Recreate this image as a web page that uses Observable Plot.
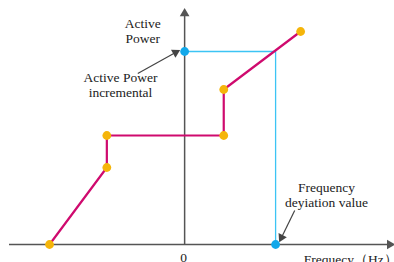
<!DOCTYPE html>
<html><head><meta charset="utf-8">
<script src="https://cdn.jsdelivr.net/npm/d3@7"></script>
<script src="https://cdn.jsdelivr.net/npm/@observablehq/plot@0.6"></script>
<style>body{margin:0;background:#fff}#chart svg{display:block}</style>
</head><body><div id="chart"></div>
<script>
// Frequency-response curve (frequency deviation vs active power increment)
const curveFreq  = [-2.97, -1.71, -1.71, 0.86, 0.86, 2.55];
const curvePower = [0, 0.77, 1.09, 1.09, 1.55, 2.13];
// Operating point (blue)
const opFreq  = [0, 2.0, 2.0];
const opPower = [1.93, 1.93, 0];
const opDotFreq  = [0, 2.0];
const opDotPower = [1.93, 0];
// Axis extents
const xDomain = [-3.85, 4.57];
const yDomain = [0, 2.34];
// Text labels (centered)
const labels = [
  {text: "Active\nPower", f: -0.92, p: 2.14},
  {text: "Active Power\nincremental", f: -1.41, p: 1.595},
  {text: "Frequency\ndeyiation value", f: 3.12, p: 0.495},
  {text: "0", f: -0.02, p: -0.125}
];
// Axis title (left-aligned)
const axisTitle = [{text: "Frequecy（Hz）", f: 2.62, p: -0.155}];
// Annotation arrows (from label to target)
const pointers = [
  {f1: -1.03, p1: 1.71, f2: -0.20, p2: 1.92},
  {f1: 2.42, p1: 0.34, f2: 2.13, p2: 0.07}
];

const W = 394, H = 262;
const mL = 9, mR = 2, mT = 10, mB = 18;
const xs = Plot.scale({x: {domain: xDomain, range: [mL, W - mR]}});
const ys = Plot.scale({y: {domain: yDomain, range: [H - mB, mT]}});
const angle = d => {
  const dx = xs.apply(d.f2) - xs.apply(d.f1);
  const dy = ys.apply(d.p2) - ys.apply(d.p1);
  return Math.atan2(dx, -dy) * 180 / Math.PI;
};

const curve = curveFreq.map((f, i) => ({f, p: curvePower[i]}));
const op = opFreq.map((f, i) => ({f, p: opPower[i]}));
const opDots = opDotFreq.map((f, i) => ({f, p: opDotPower[i]}));
const heads = pointers.map(d => ({f: d.f2, p: d.p2, a: angle(d)}));
const axisHeads = [
  {f: xDomain[1] - 0.06, p: 0, a: 90},
  {f: 0, p: yDomain[1] - 0.03, a: 0}
];

const chart = Plot.plot({
  width: W, height: H,
  marginLeft: mL, marginRight: mR, marginTop: mT, marginBottom: mB,
  x: {domain: xDomain, axis: null},
  y: {domain: yDomain, axis: null},
  style: {fontFamily: "Liberation Serif", background: "#fff"},
  marks: [
    Plot.ruleY([0], {stroke: "#555", strokeWidth: 1.5, x1: xDomain[0], x2: xDomain[1] - 0.1}),
    Plot.ruleX([0], {stroke: "#555", strokeWidth: 1.5, y1: 0, y2: yDomain[1] - 0.05}),
    Plot.dot(axisHeads, {x: "f", y: "p", rotate: "a", symbol: "triangle", r: 3.6, fill: "#555", stroke: "none"}),
    Plot.line(op, {x: "f", y: "p", stroke: "#3CC4F4", strokeWidth: 1.3}),
    Plot.line(curve, {x: "f", y: "p", stroke: "#CF0A6E", strokeWidth: 2.2}),
    Plot.dot(curve, {x: "f", y: "p", r: 4.4, fill: "#F5B50A", stroke: "none"}),
    Plot.dot(opDots, {x: "f", y: "p", r: 4.4, fill: "#12A8EA", stroke: "none"}),
    Plot.link(pointers, {x1: "f1", y1: "p1", x2: "f2", y2: "p2", stroke: "#444", strokeWidth: 1.2}),
    Plot.dot(heads, {x: "f", y: "p", rotate: "a", symbol: "triangle", r: 3.4, fill: "#444", stroke: "none"}),
    Plot.text(labels, {x: "f", y: "p", text: "text", textAnchor: "middle", fontSize: 13.5, fill: "#222", lineHeight: 1.12}),
    Plot.text(axisTitle, {x: "f", y: "p", text: "text", textAnchor: "start", fontSize: 13.5, fill: "#222"})
  ]
});
document.getElementById("chart").append(chart);
</script></body></html>
